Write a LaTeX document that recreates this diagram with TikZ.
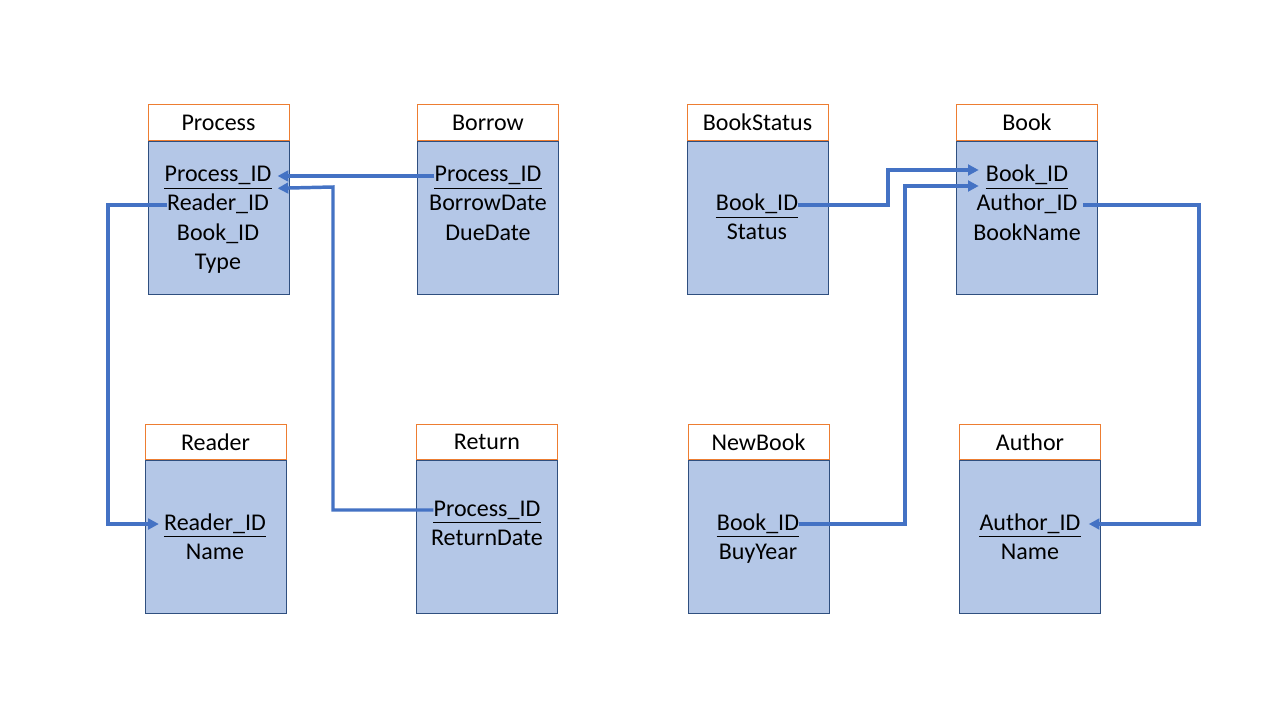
\documentclass[tikz,border=0pt]{standalone}
\usepackage{fontspec}
\setmainfont{Carlito}
\usetikzlibrary{arrows.meta,positioning,calc}
\definecolor{linkcol}{HTML}{4472C4}
\definecolor{hdrcol}{HTML}{ED7D31}
\definecolor{bodycol}{HTML}{B4C7E7}
\definecolor{edgecol}{HTML}{2F4F7F}

\tikzset{
  hdr/.style={draw=hdrcol, line width=0.75pt, fill=white, inner sep=0pt,
    minimum width=105.75pt, minimum height=26.5pt, font=\fontsize{18}{22}\selectfont},
  tbl/.style={draw=edgecol, line width=0.75pt, fill=bodycol, inner sep=0pt,
    minimum width=105.75pt, minimum height=114.75pt},
  field/.style={anchor=base, inner sep=0pt, text height=13.5pt, text depth=4.5pt,
    font=\fontsize{18}{22}\selectfont},
  key/.style={field, append after command={(\tikzlastnode.south west)
    edge[black, line width=0.75pt] (\tikzlastnode.south east)}},
  link/.style={draw=linkcol, line width=2.6pt, -{Triangle[length=8pt,width=8pt]}},
}

\begin{document}
\begin{tikzpicture}[x=0.75pt, y=-0.75pt]

    \useasboundingbox (0,0) rectangle (1280,720);
    \fill[white] (0,0) rectangle (1280,720);

    % Table headers and bodies
    \node[hdr] (process) at (218.5,122.5) {Process};
    \node[tbl, below=0pt of process] (processbody) {};
    \node[hdr] (borrow) at (488,122.5) {Borrow};
    \node[tbl, below=0pt of borrow] (borrowbody) {};
    \node[hdr] (bookstatus) at (757.5,122.5) {BookStatus};
    \node[tbl, below=0pt of bookstatus] (bookstatusbody) {};
    \node[hdr] (book) at (1027,122.5) {Book};
    \node[tbl, below=0pt of book] (bookbody) {};

    \node[hdr] (reader) at (215.5,442) {Reader};
    \node[tbl, below=0pt of reader] (readerbody) {};
    \node[hdr] (return) at (487,442) {Return};
    \node[tbl, below=0pt of return] (returnbody) {};
    \node[hdr] (newbook) at (758.5,442) {NewBook};
    \node[tbl, below=0pt of newbook] (newbookbody) {};
    \node[hdr] (author) at (1030,442) {Author};
    \node[tbl, below=0pt of author] (authorbody) {};

    % Fields
    \node[key] (ppid) at (218,182) {Process\_ID};
    \node[field] (prid) at (218,211) {Reader\_ID};
    \node[field] (pbid) at (218,240) {Book\_ID};
    \node[field] (ptype) at (218,269) {Type};

    \node[key] (bpid) at (488,182) {Process\_ID};
    \node[field] (bdate) at (488,211) {BorrowDate};
    \node[field] (bdue) at (488,240) {DueDate};

    \node[key] (bsid) at (757,211) {Book\_ID};
    \node[field] (bsstat) at (757,239) {Status};

    \node[key] (bkid) at (1027,182) {Book\_ID};
    \node[field] (bkaid) at (1027,211) {Author\_ID};
    \node[field] (bkname) at (1027,240) {BookName};

    \node[key] (rrid) at (215,530) {Reader\_ID};
    \node[field] (rname) at (215,559) {Name};

    \node[key] (rpid) at (487,516) {Process\_ID};
    \node[field] (rdate) at (487,545) {ReturnDate};

    \node[key] (nbid) at (758,530) {Book\_ID};
    \node[field] (nbyear) at (758,559) {BuyYear};

    \node[key] (auid) at (1030,530) {Author\_ID};
    \node[field] (auname) at (1030,559) {Name};

    % Connectors
    \coordinate (retbend) at (333,187);
    \coordinate (rdrbend) at (108,0);
    \coordinate (bsbend) at (888,170);
    \coordinate (nbbend) at (905,186);
    \coordinate (aubend) at (1199,0);

    \draw[link] (bpid.west) -- ($(ppid.east |- bpid.west)+(6,0)$);
    \draw[link] (rpid.west) -| (retbend) -- ($(ppid.south east)+(6,0)$);
    \draw[link] (prid.west) -| (rdrbend |- rrid.west) -- ($(rrid.west)+(-5,0)$);
    \draw[link] (bsid.east) -| (bsbend) -- ($(bkid.west |- bsbend)+(-7,0)$);
    \draw[link] (nbid.east) -| (nbbend) -- ($(bkid.west |- nbbend)+(-7,0)$);
    \draw[link] ($(bkaid.east)+(5,0)$) -| (aubend |- auid.east) -- ($(auid.east)+(8,0)$);

\end{tikzpicture}
\end{document}
